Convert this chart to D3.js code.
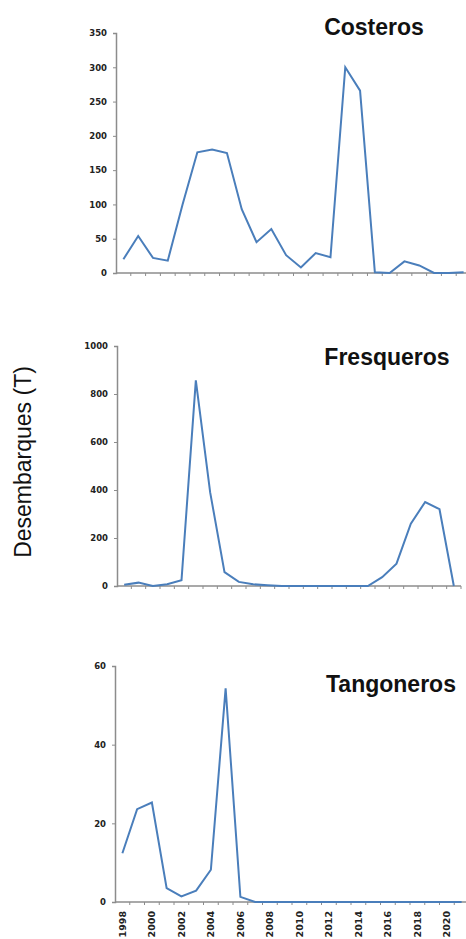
<!DOCTYPE html>
<html>
<head>
<meta charset="utf-8">
<script src="https://cdn.jsdelivr.net/npm/d3@7"></script>
<style>
  html, body { margin: 0; padding: 0; background: #fff; }
  svg { display: block; }
</style>
</head>
<body>
<svg id="chart" width="466" height="939"></svg>
<script>
const years = d3.range(1998, 2022);
const yearLabels = ["1998","2000","2002","2004","2006","2008","2010","2012","2014","2016","2018","2020"];

const costeros = [20, 54, 22, 18, 100, 176, 180, 175, 93, 45, 64, 26, 8, 29, 23, 300, 266, 1, 0, 17, 11, 0, 0, 1];
const fresqueros = [5, 14, 0, 7, 24, 857, 390, 58, 17, 7, 3, 0, 0, 0, 0, 0, 0, 0, 37, 93, 260, 350, 320, 0];
const tangoneros = [12.4, 23.6, 25.3, 3.5, 1.4, 2.9, 8.2, 54.3, 1.3, 0, 0, 0, 0, 0, 0, 0, 0, 0, 0, 0, 0, 0, 0, 0];

const titles = ["Costeros", "Fresqueros", "Tangoneros"];
const yMaxes = [350, 1000, 60];
const yTicks = [[0,50,100,150,200,250,300,350],[0,200,400,600,800,1000],[0,20,40,60]];
const yLabel = "Desembarques (T)";

const panels = [
  {title: titles[0], data: costeros, ymax: yMaxes[0], ticks: yTicks[0], left: 116, right: 471, top: 33, bottom: 273, tx: 374, ty: 35, showYears: false},
  {title: titles[1], data: fresqueros, ymax: yMaxes[1], ticks: yTicks[1], left: 117, right: 461, top: 346, bottom: 586, tx: 387, ty: 365, showYears: false},
  {title: titles[2], data: tangoneros, ymax: yMaxes[2], ticks: yTicks[2], left: 115, right: 469, top: 666, bottom: 902, tx: 391, ty: 692, showYears: true}
];

const svg = d3.select("#chart");
const axisColor = "#8c8c8c";
const lineColor = "#4a7ebb";

panels.forEach(p => {
  const x = d3.scaleBand().domain(years).range([p.left, p.right]).padding(0);
  const y = d3.scaleLinear().domain([0, p.ymax]).range([p.bottom, p.top]);
  const g = svg.append("g");

  // y axis
  const ya = g.append("g")
    .attr("transform", `translate(${p.left},0)`)
    .call(d3.axisLeft(y).tickValues(p.ticks).tickSize(3).tickPadding(6).tickFormat(d3.format("d")));
  ya.select(".domain").attr("stroke", axisColor).attr("stroke-width", 1.5);
  ya.selectAll(".tick line").attr("stroke", axisColor);
  ya.selectAll(".tick text")
    .attr("font-family", "DejaVu Sans")
    .attr("font-weight", "bold")
    .attr("font-size", 8.5)
    .attr("fill", "#222");

  // x axis with ticks at category boundaries
  const xa = g.append("g").attr("transform", `translate(0,${p.bottom})`);
  xa.append("line")
    .attr("x1", p.left).attr("x2", p.right)
    .attr("y1", 0).attr("y2", 0)
    .attr("stroke", axisColor).attr("stroke-width", 1.5);
  xa.selectAll("line.tk").data(years).enter().append("line")
    .attr("class", "tk")
    .attr("x1", d => x(d) + x.bandwidth())
    .attr("x2", d => x(d) + x.bandwidth())
    .attr("y1", 0).attr("y2", 3)
    .attr("stroke", axisColor).attr("stroke-width", 1);

  if (p.showYears) {
    xa.selectAll("text.yl").data(yearLabels).enter().append("text")
      .attr("class", "yl")
      .attr("transform", d => `translate(${x(+d) + x.bandwidth() / 2 + 3.5},9) rotate(-90)`)
      .attr("text-anchor", "end")
      .attr("font-family", "DejaVu Sans")
      .attr("font-weight", "bold")
      .attr("font-size", 9.5)
      .attr("fill", "#222")
      .text(d => d);
  }

  // line
  const line = d3.line()
    .x((d, i) => x(years[i]) + x.bandwidth() / 2)
    .y(d => y(d));
  g.append("path")
    .datum(p.data)
    .attr("fill", "none")
    .attr("stroke", lineColor)
    .attr("stroke-width", 2)
    .attr("stroke-linejoin", "miter")
    .attr("d", line);

  // title
  g.append("text")
    .attr("x", p.tx).attr("y", p.ty)
    .attr("text-anchor", "middle")
    .attr("font-family", "Liberation Sans, Arial, sans-serif")
    .attr("font-weight", "bold")
    .attr("font-size", 23)
    .attr("fill", "#111")
    .text(p.title);
});

svg.append("text")
  .attr("transform", "translate(31,462) rotate(-90)")
  .attr("text-anchor", "middle")
  .attr("font-family", "Liberation Sans, Arial, sans-serif")
  .attr("font-size", 23)
  .attr("fill", "#111")
  .text(yLabel);
</script>
</body>
</html>
